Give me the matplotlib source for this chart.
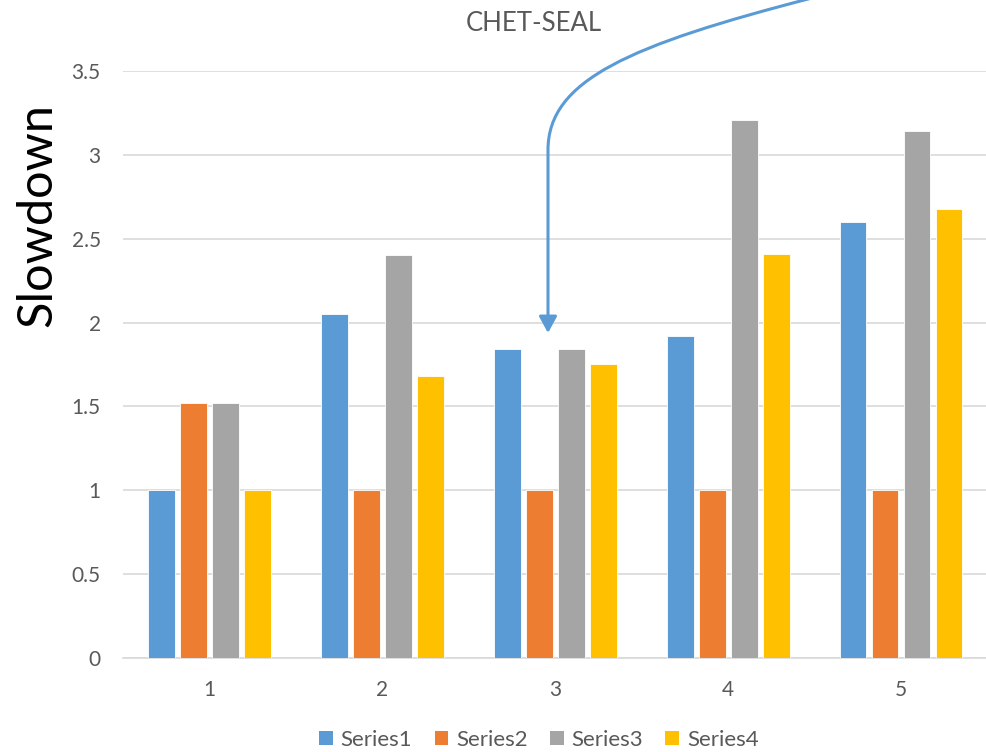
import matplotlib
matplotlib.use('Agg')
import matplotlib.pyplot as plt
import numpy as np
from matplotlib.patches import FancyArrowPatch, Patch
from matplotlib.path import Path

plt.rcParams['font.family'] = ['Lato', 'DejaVu Sans']

# data
categories = ['1', '2', '3', '4', '5']
series_names = ['Series1', 'Series2', 'Series3', 'Series4']
series1 = [1.0, 2.05, 1.84, 1.92, 2.60]
series2 = [1.52, 1.0, 1.0, 1.0, 1.0]
series3 = [1.52, 2.40, 1.84, 3.21, 3.14]
series4 = [1.0, 1.68, 1.75, 2.41, 2.68]
colors = ['#5B9BD5', '#ED7D31', '#A5A5A5', '#FFC000']

TXT = '#595959'
GRID = '#D9D9D9'

fig = plt.figure(figsize=(9.87, 7.52), dpi=100, facecolor='white')
ax = fig.add_axes([0.1246, 0.125, 0.8754, 0.7806])

x = np.arange(1, len(categories) + 1)
offsets = [-0.27, -0.085, 0.1, 0.285]
width = 0.155
for vals, off, col, name in zip([series1, series2, series3, series4], offsets, colors, series_names):
    ax.bar(x + off - 0.005, vals, width, color=col, label=name, zorder=3,
           edgecolor='white', linewidth=0.6)

ax.set_xlim(0.5, 5.5)
ax.set_ylim(0, 3.5)
ax.set_yticks(np.arange(0, 3.51, 0.5))
ax.set_yticklabels(['0', '0.5', '1', '1.5', '2', '2.5', '3', '3.5'])
ax.set_xticks(x)
ax.set_xticklabels(categories)
ax.tick_params(length=0, colors=TXT, labelsize=15)
ax.tick_params(axis='y', pad=16)
ax.tick_params(axis='x', pad=16)
ax.grid(axis='y', color=GRID, linewidth=1.2, zorder=0)
for s in ['top', 'right', 'left']:
    ax.spines[s].set_visible(False)
ax.spines['bottom'].set_color(GRID)
ax.spines['bottom'].set_linewidth(1.2)

fig.text(0.541, 0.969, 'CHET-SEAL', ha='center', va='center', fontsize=18.5, color=TXT)
fig.text(0.038, 0.714, 'Slowdown', ha='center', va='center', rotation=90,
         fontsize=35, color='black')

handles = [Patch(facecolor=c, label=n) for c, n in zip(colors, series_names)]
fig.legend(handles=handles, loc='center', bbox_to_anchor=(0.546, 0.016), ncol=4,
           frameon=False, fontsize=16, labelcolor=TXT, handlelength=0.62,
           handleheight=0.62, handletextpad=0.35, columnspacing=1.0)

# overlay in pixel coordinates for the curved arrow
ov = fig.add_axes([0, 0, 1, 1], facecolor='none')
ov.set_xlim(0, 987)
ov.set_ylim(752, 0)
ov.axis('off')
verts = [(812, -2), (630, 45), (548, 80), (548, 150), (548, 333)]
codes = [Path.MOVETO, Path.CURVE4, Path.CURVE4, Path.CURVE4, Path.LINETO]
arr = FancyArrowPatch(path=Path(verts, codes), arrowstyle='-|>,head_width=0.3,head_length=0.55',
                      mutation_scale=18, color='#5B9BD5', linewidth=2.2)
ov.add_patch(arr)

fig.savefig('out.png', dpi=100, facecolor='white')
